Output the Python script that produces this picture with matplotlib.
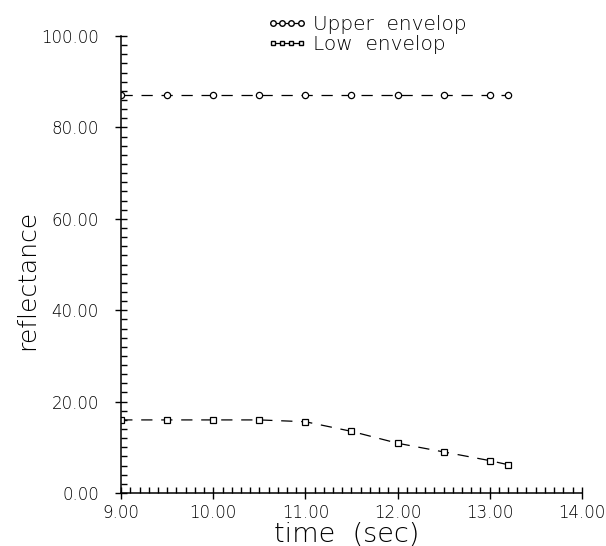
import matplotlib.pyplot as plt
from matplotlib.lines import Line2D
from matplotlib.ticker import MultipleLocator, FormatStrFormatter

plt.rcParams["font.family"] = ["DejaVu Sans"]
plt.rcParams["font.weight"] = "light"
plt.rcParams["axes.labelweight"] = "light"

# data
time_s = [9.0, 9.5, 10.0, 10.5, 11.0, 11.5, 12.0, 12.5, 13.0, 13.2]
upper_env = [87.0, 87.0, 87.0, 87.0, 87.0, 87.0, 87.0, 87.0, 87.0, 87.0]
low_env = [16.0, 16.0, 16.0, 16.0, 15.6, 13.5, 10.9, 9.0, 7.1, 6.2]

fig = plt.figure(figsize=(6.06, 5.46), dpi=100)
ax = fig.add_axes([0.2, 0.097, 0.76, 0.837])

line_kw = dict(color="black", lw=0.9, dashes=(9, 7), mec="black", mew=0.9)
ax.plot(time_s, upper_env, marker="o", ms=4.5, mfc="white", **line_kw)
ax.plot(time_s, low_env, marker="s", ms=3.8, mfc="white", **line_kw)

ax.set_xlim(9, 14)
ax.set_ylim(0, 100)
ax.xaxis.set_major_locator(MultipleLocator(1))
ax.xaxis.set_minor_locator(MultipleLocator(0.1))
ax.yaxis.set_major_locator(MultipleLocator(20))
ax.yaxis.set_minor_locator(MultipleLocator(2))
ax.xaxis.set_major_formatter(FormatStrFormatter("%.2f"))
ax.yaxis.set_major_formatter(FormatStrFormatter("%.2f"))
ax.tick_params(which="both", width=1, labelsize=12, labelcolor="black")
ax.tick_params(which="major", direction="inout", length=8)
ax.tick_params(which="minor", direction="in", length=4)
ax.tick_params(axis="x", pad=4)
ax.tick_params(axis="y", pad=12)

for side in ("top", "right"):
    ax.spines[side].set_visible(False)
for side in ("left", "bottom"):
    ax.spines[side].set_linewidth(1.1)

ax.set_xlabel("time  (sec)", fontsize=19.5)
ax.set_ylabel("reflectance", fontsize=18)
ax.xaxis.set_label_coords(0.49, -0.09)
ax.yaxis.set_label_coords(-0.204, 0.466)
ax.xaxis.label.set_va("center")
ax.yaxis.label.set_va("center")

handles = [
    Line2D([], [], color="black", lw=0.9, marker="o", ms=4, mfc="white", mec="black"),
    Line2D([], [], color="black", lw=0.9, marker="s", ms=3.5, mfc="white", mec="black"),
]
fig.legend(handles, ["Upper  envelop", "Low  envelop"], loc="upper left",
           bbox_to_anchor=(0.41, 1.006), frameon=False, numpoints=4,
           handlelength=2.0, handletextpad=0.3, labelspacing=0.05, fontsize=14.5)

fig.savefig("out.png", dpi=100)
